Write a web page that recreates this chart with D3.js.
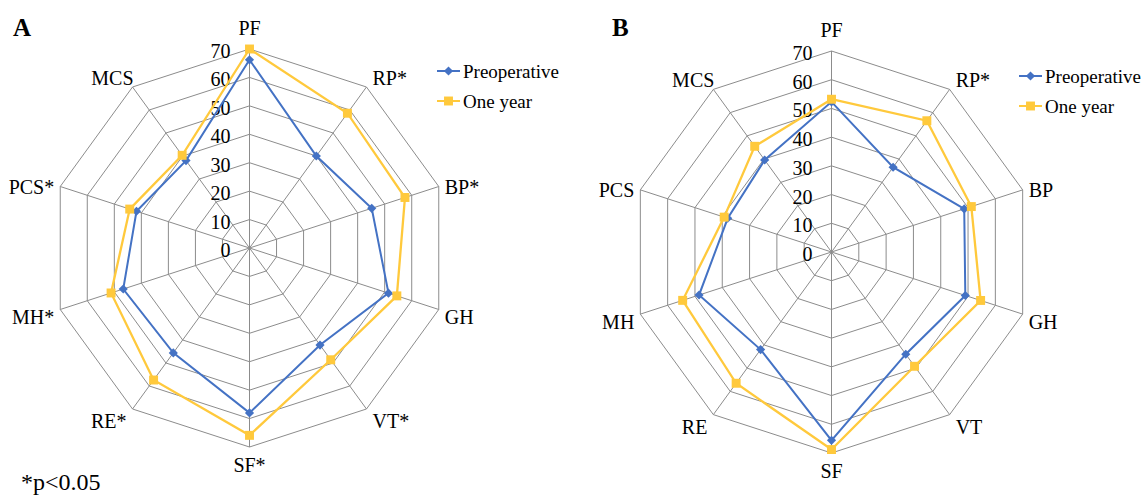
<!DOCTYPE html>
<html>
<head>
<meta charset="utf-8">
<script src="https://cdn.jsdelivr.net/npm/d3@7"></script>
<style>
  body { margin: 0; background: #fff; }
  text { font-family: "Liberation Serif", "Times New Roman", serif; fill: #000; }
</style>
</head>
<body>
<svg></svg>
<script>
let width = 1143,
  height = 497;

// data
const axesA = ["PF", "RP*", "BP*", "GH", "VT*", "SF*", "RE*", "MH*", "PCS*", "MCS"];
const axesB = ["PF", "RP*", "BP", "GH", "VT", "SF", "RE", "MH", "PCS", "MCS"];
const tickValues = [0, 10, 20, 30, 40, 50, 60, 70];
const preopA = [66.2, 40, 45.2, 51.4, 42.2, 58, 45.6, 46.7, 41.8, 38];
const oneYearA = [70, 58.6, 57.5, 54.5, 48.6, 65.9, 57.4, 51.2, 44.3, 40.3];
const preopB = [52.3, 36.5, 48.6, 49, 44, 65.6, 42, 48.5, 38, 39.6];
const oneYearB = [53.2, 56.5, 51.2, 54.6, 49.2, 68.8, 56.5, 54.5, 39.3, 45.5];
const seriesNames = ["Preoperative", "One year"];
const colors = ["#4472C4", "#FFC93C"];

let svg = d3.select("svg").attr("width", width).attr("height", height);

function drawRadar(cx, cy, R, labels, series, legendX, legendY) {
  let g = svg.append("g").attr("transform", "translate(" + cx + "," + cy + ")");
  let r = d3.scaleLinear().domain([0, 70]).range([0, R]);
  let n = labels.length;
  let angle = d3.scaleLinear().domain([0, n]).range([0, 2 * Math.PI]);
  let pt = (i, v) => [r(v) * Math.sin(angle(i)), -r(v) * Math.cos(angle(i))];

  // rings
  g.selectAll(".ring")
    .data(tickValues.slice(1))
    .enter()
    .append("polygon")
    .attr("points", (t) => d3.range(n).map((i) => pt(i, t).join(",")).join(" "))
    .attr("fill", "none")
    .attr("stroke", "#8c8c8c")
    .attr("stroke-width", 1);

  // spokes
  g.selectAll(".spoke")
    .data(d3.range(n))
    .enter()
    .append("line")
    .attr("x2", (i) => pt(i, 70)[0])
    .attr("y2", (i) => pt(i, 70)[1])
    .attr("stroke", "#8c8c8c")
    .attr("stroke-width", 1);

  // tick labels
  g.selectAll(".tick")
    .data(tickValues)
    .enter()
    .append("text")
    .attr("x", -19)
    .attr("y", (t) => -r(t) + 2)
    .attr("dominant-baseline", "central")
    .attr("text-anchor", "end")
    .style("font-size", "20px")
    .text((t) => t);

  // axis labels
  g.selectAll(".lab")
    .data(labels)
    .enter()
    .append("text")
    .style("font-size", "20px")
    .attr("dominant-baseline", "central")
    .attr("text-anchor", (d, i) => {
      let s = Math.sin(angle(i));
      return s > 0.1 ? "start" : s < -0.1 ? "end" : "middle";
    })
    .attr("x", (d, i) => {
      let s = Math.sin(angle(i)), c = Math.cos(angle(i));
      if (s < -0.1 && c > 0.5) return pt(i, 70)[0] + 1;
      return pt(i, 70)[0] + (s > 0.1 ? 6 : s < -0.1 ? -6 : 0);
    })
    .attr("y", (d, i) => {
      let c = Math.cos(angle(i));
      let off = c > 0.9 ? -21 : c > 0.5 ? -9 : c > 0 ? 0 : c > -0.5 ? 8 : c > -0.9 ? 12 : 18;
      return pt(i, 70)[1] + off;
    })
    .text((d) => d);

  let diamond = d3.symbol().type(d3.symbolSquare).size(42);
  let square = d3.symbol().type(d3.symbolSquare).size(80);

  series.forEach((vals, k) => {
    let line = d3.line().curve(d3.curveLinearClosed);
    g.append("path")
      .attr("d", line(vals.map((v, i) => pt(i, v))))
      .attr("fill", "none")
      .attr("stroke", colors[k])
      .attr("stroke-width", k == 0 ? 2 : 2.3);

    g.selectAll(".m" + k)
      .data(vals)
      .enter()
      .append("path")
      .attr("d", k == 0 ? diamond() : square())
      .attr("transform", (v, i) => "translate(" + pt(i, v) + ")" + (k == 0 ? " rotate(45)" : ""))
      .attr("fill", colors[k]);
  });

  // legend
  let leg = svg.append("g").attr("transform", "translate(" + legendX + "," + legendY + ")");
  seriesNames.forEach((name, k) => {
    let y = k * 30;
    leg.append("line")
      .attr("x1", 0).attr("x2", 23)
      .attr("y1", y).attr("y2", y)
      .attr("stroke", colors[k])
      .attr("stroke-width", 2);
    leg.append("path")
      .attr("d", k == 0 ? diamond() : square())
      .attr("transform", "translate(11.5," + y + ")" + (k == 0 ? " rotate(45)" : ""))
      .attr("fill", colors[k]);
    leg.append("text")
      .attr("x", 26)
      .attr("y", y)
      .attr("dominant-baseline", "central")
      .style("font-size", "19px")
      .text(name);
  });
}

drawRadar(249.5, 248, 199, axesA, [preopA, oneYearA], 437, 71);
drawRadar(831.5, 252, 201, axesB, [preopB, oneYearB], 1019, 76);

svg.append("text").attr("x", 13).attr("y", 36)
  .style("font-size", "25px").style("font-weight", "bold").text("A");
svg.append("text").attr("x", 612).attr("y", 36)
  .style("font-size", "25px").style("font-weight", "bold").text("B");
svg.append("text").attr("x", 21).attr("y", 490)
  .style("font-size", "24px").text("*p<0.05");
</script>
</body>
</html>
